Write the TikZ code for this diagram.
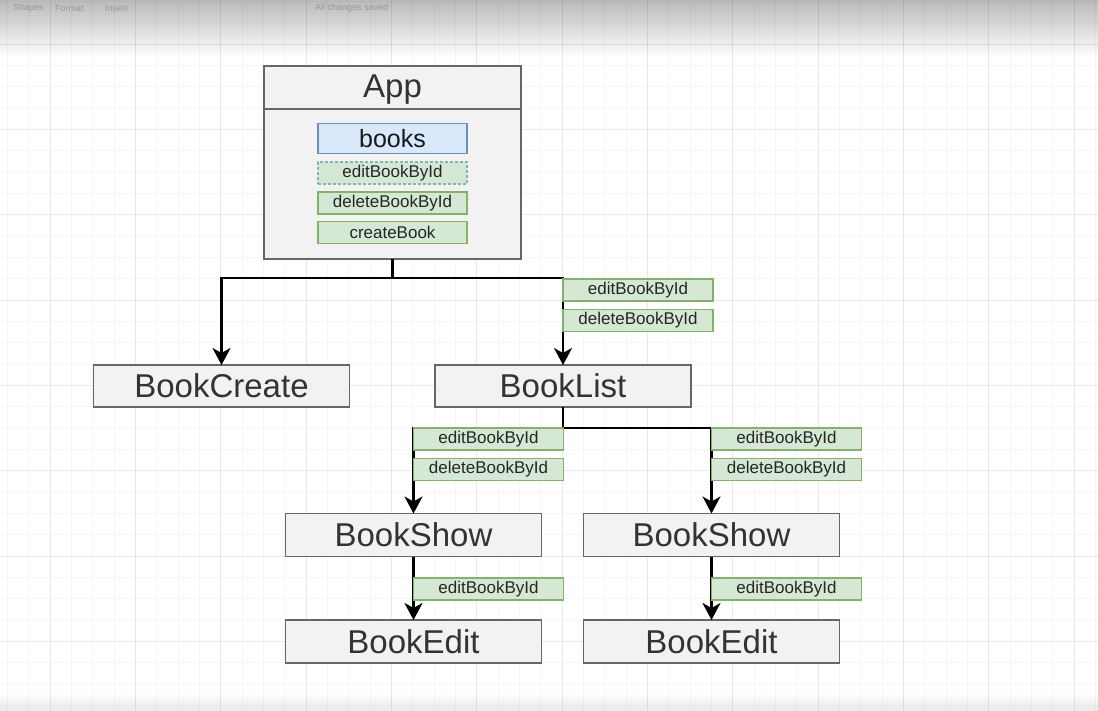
\documentclass[tikz,border=0pt]{standalone}
\usepackage{fontspec}
\setmainfont{Liberation Sans}
\usetikzlibrary{arrows.meta,calc}
\definecolor{boxfill}{HTML}{F2F2F2}
\definecolor{boxline}{HTML}{666666}
\definecolor{gfill}{HTML}{D5E8D4}
\definecolor{gline}{HTML}{82B366}
\definecolor{bfill}{HTML}{DAE8FC}
\definecolor{bline}{HTML}{6C8EBF}
\definecolor{txt}{HTML}{333333}
\definecolor{selcol}{HTML}{7FB5B5}
\tikzset{
  bigbox/.style={draw=boxline, fill=boxfill, line width=1.8pt, minimum width=256pt, minimum height=43pt, inner sep=0pt, outer sep=0pt, font=\fontsize{33}{33}\selectfont, text=txt},
  lbl/.style={draw=gline, fill=gfill, line width=1.6pt, minimum width=150pt, minimum height=22pt, inner sep=0pt, outer sep=0pt, font=\fontsize{17}{17}\selectfont, text=black!85},
  conn/.style={line width=2.2pt, black},
  arr/.style={conn, -{Stealth[length=17pt,width=18pt,inset=5pt]}},
  tbtext/.style={font=\fontsize{9}{9}\selectfont, text=black!40, anchor=west, inner sep=0pt},
}
\begin{document}
\begin{tikzpicture}[x=1pt,y=-1pt]
\useasboundingbox (0,0) rectangle (1098,710);
\fill[white] (0,0) rectangle (1098,710);
% toolbar shading
\shade[top color=black!27, bottom color=white] (0,0) rectangle (1098,58);
\shade[top color=white, bottom color=black!8] (0,692) rectangle (1098,710);
% grid
\foreach \i in {-2,...,49}{
  \pgfmathtruncatemacro{\m}{mod(\i+8,4)}
  \ifnum\m=0
    \draw[black, opacity=0.085, line width=0.8pt] ({50+21.333*\i},0) -- ({50+21.333*\i},710);
  \else
    \draw[black, opacity=0.035, line width=0.8pt] ({50+21.333*\i},0) -- ({50+21.333*\i},710);
  \fi
}
\foreach \j in {-2,...,31}{
  \pgfmathtruncatemacro{\m}{mod(\j+8,4)}
  \ifnum\m=0
    \draw[black, opacity=0.085, line width=0.8pt] (0,{44+21.333*\j}) -- (1098,{44+21.333*\j});
  \else
    \draw[black, opacity=0.035, line width=0.8pt] (0,{44+21.333*\j}) -- (1098,{44+21.333*\j});
  \fi
}
% toolbar texts
\node[tbtext] (tb1) at (13,8) {Shapes};
\node[tbtext] (tb2) at (55,8) {Format};
\node[tbtext] (tb3) at (105,8) {Insert};
\node[tbtext] (tb4) at (315,8) {All changes saved};

% App container
\node[draw=boxline, fill=boxfill, line width=1.8pt, minimum width=257pt, minimum height=193pt, inner sep=0pt, outer sep=0pt] (app) at (392.5,162.5) {};
\coordinate (hd) at (0,109);
\draw[boxline, line width=1.8pt] (app.west |- hd) -- (app.east |- hd);
\node[font=\fontsize{33}{33}\selectfont, text=txt] (apptitle) at (392.5,89.5) {App};
\node[draw=bline, fill=bfill, line width=1.6pt, minimum width=149pt, minimum height=30pt, inner sep=0pt, font=\fontsize{25}{25}\selectfont, text=black!90] (books) at (392.5,138.5) {books};
\node[lbl, draw=selcol, dash pattern=on 3pt off 2pt, line width=1.2pt, minimum width=149pt] (aedit) at (392.5,173) {editBookById};
\node[lbl, minimum width=149pt] (adel) at (392.5,203) {deleteBookById};
\node[lbl, minimum width=149pt] (acreate) at (392.5,232.5) {createBook};

% children
\node[bigbox, minimum height=42pt] (bc) at (221.5,386) {BookCreate};
\node[bigbox, minimum height=42pt] (bl) at (563,386) {BookList};
\node[bigbox] (bs1) at (413.5,535) {BookShow};
\node[bigbox] (bs2) at (711.5,535) {BookShow};
\node[bigbox] (be1) at (413.5,641.5) {BookEdit};
\node[bigbox] (be2) at (711.5,641.5) {BookEdit};

% connectors
\coordinate (j1) at ($(app.south)+(0,19)$);
\draw[conn] (app.south) -- (j1);
\draw[arr] (j1) -| (bc.north);
\draw[arr] (j1) -| (bl.north);
\coordinate (j2) at ($(bl.south)+(0,21)$);
\draw[conn] (bl.south) -- (j2);
\draw[arr] (j2) -| (bs1.north);
\draw[arr] (j2) -| (bs2.north);
\draw[arr] (bs1.south) -- (be1.north);
\draw[arr] (bs2.south) -- (be2.north);

% edge labels
\node[lbl, anchor=north west] (l1) at ($(bl.north |- j1)+(0,1)$) {editBookById};
\node[lbl, anchor=north west] (l2) at ($(l1.south west)+(0,8.5)$) {deleteBookById};
\node[lbl, anchor=north west] (l3) at ($(bs1.north |- j2)$) {editBookById};
\node[lbl, anchor=north west] (l4) at ($(l3.south west)+(0,8.5)$) {deleteBookById};
\node[lbl, anchor=north west] (l5) at ($(bs2.north |- j2)$) {editBookById};
\node[lbl, anchor=north west] (l6) at ($(l5.south west)+(0,8.5)$) {deleteBookById};
\node[lbl, anchor=north west] (l7) at ($(bs1.south)+(0,21.5)$) {editBookById};
\node[lbl, anchor=north west] (l8) at ($(bs2.south)+(0,21.5)$) {editBookById};
\end{tikzpicture}
\end{document}
